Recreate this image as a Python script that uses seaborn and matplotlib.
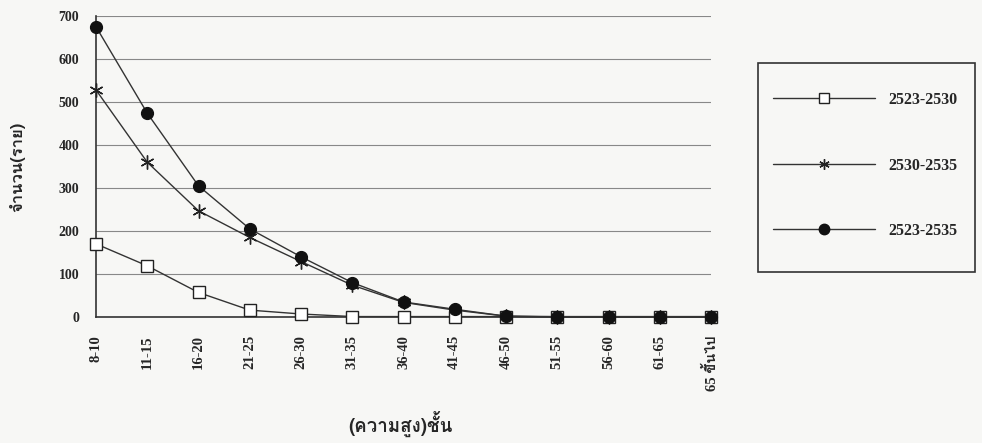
import numpy as np
import pandas as pd
import matplotlib
matplotlib.use("Agg")
import matplotlib.pyplot as plt
import seaborn as sns
from matplotlib import font_manager
from matplotlib.lines import Line2D
from matplotlib.patches import Rectangle

# ---------------- data ----------------
categories = ["8-10", "11-15", "16-20", "21-25", "26-30", "31-35", "36-40",
              "41-45", "46-50", "51-55", "56-60", "61-65", "65 ขึ้นไป"]
s_2523_2530 = [170, 119, 57, 16, 7, 1, 1, 1, 1, 0, 0, 0, 0]
s_2530_2535 = [528, 360, 247, 185, 129, 74, 34, 16, 2, 0, 0, 0, 0]
s_2523_2535 = [675, 474, 305, 205, 140, 80, 35, 18, 2, 1, 1, 1, 1]
series_names = ["2523-2530", "2530-2535", "2523-2535"]
y_ticks = [0, 100, 200, 300, 400, 500, 600, 700]
x_label = "(ความสูง)ชั้น"
y_label = "จำนวน(ราย)"

# ---------------- fonts ----------------
def _has_thai(path):
    try:
        from fontTools.ttLib import TTFont
        f = TTFont(path, fontNumber=0, lazy=True)
        cmap = f.getBestCmap()
        return cmap is not None and 0x0E01 in cmap
    except Exception:
        return False

thai_fams = []
for fe in font_manager.fontManager.ttflist:
    if fe.name not in thai_fams and _has_thai(fe.fname):
        thai_fams.append(fe.name)

sns.set_style("white")
serif = ["Liberation Serif", "DejaVu Serif"]
thai_family = thai_fams + ["DejaVu Sans"]
plt.rcParams["font.family"] = serif + thai_family

# ---------------- figure ----------------
W, H = 982, 443
bg = "#f7f7f5"
fig = plt.figure(figsize=(W / 100, H / 100), dpi=100)
fig.patch.set_facecolor(bg)
ax = fig.add_axes([96 / W, 1 - 317 / H, (711 - 96) / W, (317 - 16) / H])
ax.set_facecolor(bg)

pos = np.arange(len(categories))
df = pd.DataFrame({
    "pos": np.tile(pos, 3),
    "value": s_2523_2530 + s_2530_2535 + s_2523_2535,
    "series": np.repeat(series_names, len(categories)),
})

styles = {
    "2523-2530": dict(marker="s", markersize=8.5, markerfacecolor="white",
                      markeredgecolor="#222222", markeredgewidth=1.0),
    "2530-2535": dict(marker=(6, 2, 0), markersize=10, markerfacecolor="none",
                      markeredgecolor="#222222", markeredgewidth=1.0),
    "2523-2535": dict(marker="o", markersize=8.5, markerfacecolor="#111111",
                      markeredgecolor="#111111", markeredgewidth=1.0),
}
zorders = {"2523-2530": 4, "2530-2535": 3, "2523-2535": 5}
for name in series_names:
    sub = df[df["series"] == name]
    sns.lineplot(data=sub, x="pos", y="value", ax=ax, color="#333333",
                 linewidth=1.0, sort=False, legend=False, clip_on=False,
                 zorder=zorders[name], **styles[name])

ax.set_xlim(pos[0], pos[-1])
ax.set_ylim(0, 700)
ax.set_yticks(y_ticks)
ax.set_yticklabels([str(t) for t in y_ticks], fontsize=10, fontweight="bold",
                   family=serif + thai_family)
ax.set_xticks(pos)
ax.set_xticklabels(categories, rotation=90, fontsize=10.5, fontweight="bold",
                   family=serif + thai_family, va="top")
ax.grid(axis="y", color="#888888", linewidth=0.8)
ax.grid(axis="x", visible=False)
for side in ["top", "right"]:
    ax.spines[side].set_visible(False)
for side in ["left", "bottom"]:
    ax.spines[side].set_color("#333333")
    ax.spines[side].set_linewidth(1.2)
ax.tick_params(axis="y", direction="out", length=3, width=1, color="#333333",
               pad=9)
ax.tick_params(axis="x", direction="inout", length=6, width=1, color="#333333",
               pad=10)
ax.set_xlabel(x_label, fontsize=13.5, fontweight="bold", family=thai_family)
ax.set_ylabel(y_label, fontsize=12, fontweight="bold", family=thai_family)
ax.xaxis.set_label_coords(0.495, -0.31)
ax.yaxis.set_label_coords(-0.115, 0.5)

# legend frame
fig.add_artist(Rectangle((758 / W, 1 - 272 / H), (975 - 758) / W, (272 - 63) / H,
                         transform=fig.transFigure, fill=False,
                         edgecolor="#333333", linewidth=1.2))
handles = [Line2D([0], [0], color="#333333", linewidth=1.0, **styles[n])
           for n in series_names]
for h in handles:
    h.set_markersize(7.5)
leg = fig.legend(handles, series_names, loc="upper left",
                 bbox_to_anchor=(773 / W, 1 - 92 / H),
                 frameon=False, handlelength=6.4, handletextpad=0.8,
                 labelspacing=3.1, borderpad=0, borderaxespad=0,
                 prop={"family": serif, "weight": "bold", "size": 11.5})

fig.savefig("out.png", dpi=100, facecolor=fig.get_facecolor())
